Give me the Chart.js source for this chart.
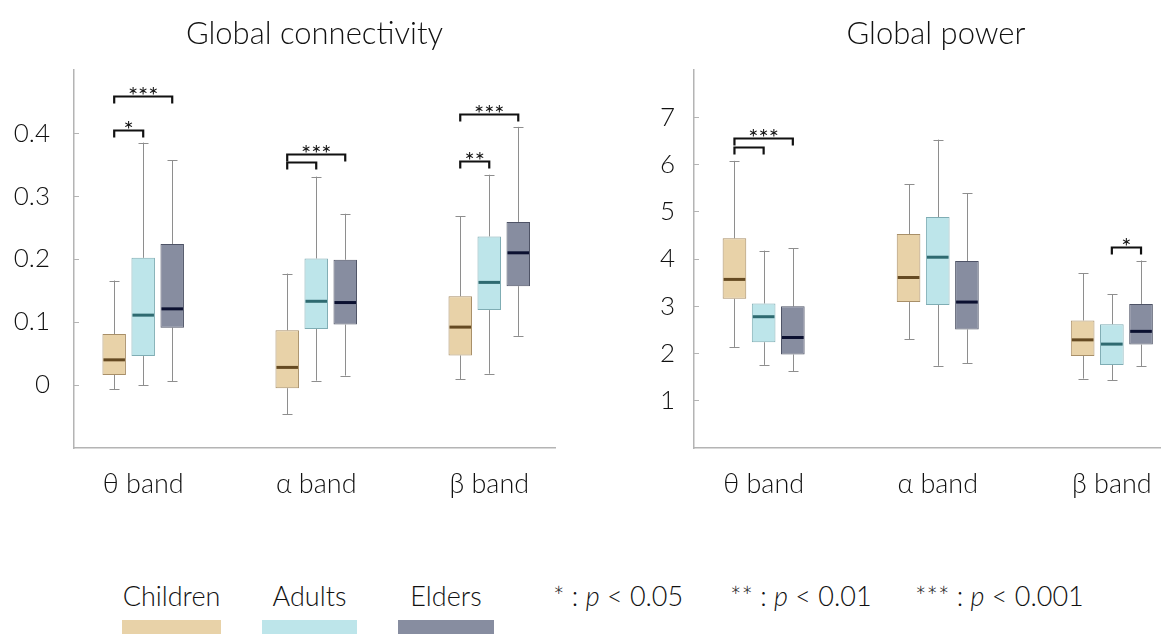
<!DOCTYPE html>
<html>
<head>
<meta charset="utf-8">
<script src="https://cdn.jsdelivr.net/npm/chart.js@4.4.1/dist/chart.umd.min.js"></script>
<style>
  html, body { margin: 0; padding: 0; background: #fff; overflow: hidden; }
  #wrap { position: relative; width: 1161px; height: 634px; overflow: hidden; }
  .panel { position: absolute; top: 0; height: 520px; width: 580px; }
  .lg-text { position: absolute; top: 580px; font-family: Lato, sans-serif; font-weight: 300; font-size: 27px; color: #111; white-space: nowrap; line-height: 32px; }
  .lg-swatch { position: absolute; top: 620px; height: 20px; }
</style>
</head>
<body>
<div id="wrap">
  <div class="panel" style="left:0"><canvas id="conn"></canvas></div>
  <div class="panel" style="left:600px"><canvas id="power"></canvas></div>
  <div id="legend"></div>
</div>
<script>
// Frequency bands on the x axis and the three age groups
const bands = ['θ band', 'α band', 'β band'];
const groups = ['Children', 'Adults', 'Elders'];

// Global connectivity: whisker ends, quartiles and medians per band
const connChildrenMin = [-0.007, -0.046, 0.009];
const connChildrenQ1  = [0.016, -0.005, 0.047];
const connChildrenMed = [0.040, 0.028, 0.092];
const connChildrenQ3  = [0.081, 0.087, 0.141];
const connChildrenMax = [0.166, 0.177, 0.268];

const connAdultsMin = [0.000, 0.007, 0.018];
const connAdultsQ1  = [0.046, 0.089, 0.119];
const connAdultsMed = [0.111, 0.133, 0.163];
const connAdultsQ3  = [0.202, 0.201, 0.236];
const connAdultsMax = [0.385, 0.331, 0.334];

const connEldersMin = [0.006, 0.015, 0.078];
const connEldersQ1  = [0.091, 0.096, 0.157];
const connEldersMed = [0.121, 0.131, 0.210];
const connEldersQ3  = [0.224, 0.199, 0.259];
const connEldersMax = [0.357, 0.272, 0.410];

// Global power: whisker ends, quartiles and medians per band
const powChildrenMin = [2.14, 2.30, 1.47];
const powChildrenQ1  = [3.16, 3.09, 1.95];
const powChildrenMed = [3.57, 3.61, 2.29];
const powChildrenQ3  = [4.44, 4.53, 2.70];
const powChildrenMax = [6.08, 5.59, 3.70];

const powAdultsMin = [1.76, 1.74, 1.44];
const powAdultsQ1  = [2.24, 3.03, 1.76];
const powAdultsMed = [2.78, 4.04, 2.20];
const powAdultsQ3  = [3.06, 4.89, 2.62];
const powAdultsMax = [4.18, 6.53, 3.26];

const powEldersMin = [1.62, 1.79, 1.73];
const powEldersQ1  = [1.98, 2.51, 2.19];
const powEldersMed = [2.34, 3.09, 2.47];
const powEldersQ3  = [3.00, 3.96, 3.05];
const powEldersMax = [4.23, 5.40, 3.97];

// Tick labels of the value axes
const connTicks = [0, 0.1, 0.2, 0.3, 0.4];
const powTicks = [1, 2, 3, 4, 5, 6, 7];

// Significance brackets: band index, first group, second group, bracket level, stars
const connBandIdx = [0, 0, 1, 1, 2, 2];
const connFrom    = [0, 0, 0, 0, 0, 0];
const connTo      = [1, 2, 1, 2, 1, 2];
const connLevel   = [0.405, 0.459, 0.354, 0.367, 0.356, 0.431];
const connStars   = ['*', '***', '', '***', '**', '***'];

const powBandIdx = [0, 0, 2];
const powFrom    = [0, 0, 1];
const powTo      = [1, 2, 2];
const powLevel   = [6.38, 6.56, 4.25];
const powStars   = ['', '***', '*'];

// Significance key
const pNotes = ['*', '**', '***'];
const pLimits = ['0.05', '0.01', '0.001'];

// Group colours
const groupFill   = ['#E8D2A8', '#BDE5EA', '#878DA0'];
const groupEdge   = ['#A88F68', '#7FADB4', '#4E5366'];
const groupMedian = ['#654A22', '#2E6A70', '#0B1030'];

const FONT = 'Lato, "Open Sans", sans-serif';

// Whiskers and caps behind the boxes, medians and brackets on top
const boxPlotPlugin = {
  id: 'boxPlotExtras',
  beforeDatasetsDraw(chart) {
    const { ctx } = chart;
    const y = chart.scales.y;
    const st = chart.options.plugins.boxPlotExtras;
    ctx.save();
    ctx.strokeStyle = '#8e8e8e';
    ctx.lineWidth = 1;
    st.stats.forEach((s, d) => {
      chart.getDatasetMeta(d).data.forEach((el, i) => {
        const x = Math.round(el.x) + 0.5;
        const segs = [[s.max[i], s.q3[i]], [s.min[i], s.q1[i]]];
        segs.forEach(([end, edge]) => {
          const ye = y.getPixelForValue(end);
          const yb = y.getPixelForValue(edge);
          ctx.beginPath();
          ctx.moveTo(x, yb);
          ctx.lineTo(x, ye);
          ctx.moveTo(x - 5, Math.round(ye) + 0.5);
          ctx.lineTo(x + 5, Math.round(ye) + 0.5);
          ctx.stroke();
        });
      });
    });
    ctx.restore();
  },
  afterDatasetsDraw(chart) {
    const { ctx } = chart;
    const y = chart.scales.y;
    const st = chart.options.plugins.boxPlotExtras;
    ctx.save();
    st.stats.forEach((s, d) => {
      ctx.strokeStyle = groupMedian[d];
      ctx.lineWidth = 3;
      chart.getDatasetMeta(d).data.forEach((el, i) => {
        const ym = y.getPixelForValue(s.med[i]);
        const hw = el.width / 2 - 1;
        ctx.beginPath();
        ctx.moveTo(el.x - hw, ym);
        ctx.lineTo(el.x + hw, ym);
        ctx.stroke();
      });
    });
    const b = st.brackets;
    ctx.strokeStyle = '#111';
    ctx.fillStyle = '#111';
    ctx.lineWidth = 2.2;
    ctx.font = '24px ' + FONT;
    ctx.textAlign = 'center';
    ctx.textBaseline = 'alphabetic';
    b.band.forEach((band, k) => {
      const x1 = chart.getDatasetMeta(b.from[k]).data[band].x;
      const x2 = chart.getDatasetMeta(b.to[k]).data[band].x;
      const yy = Math.round(y.getPixelForValue(b.level[k])) + 0.5;
      ctx.beginPath();
      ctx.moveTo(x1, yy + 7);
      ctx.lineTo(x1, yy);
      ctx.lineTo(x2, yy);
      ctx.lineTo(x2, yy + 7);
      ctx.stroke();
      if (b.stars[k]) ctx.fillText(b.stars[k], (x1 + x2) / 2, yy + 7);
    });
    ctx.restore();
  }
};

function makeBoxChart(id, title, yMin, yMax, ticks, tickFmt, stats, brackets, pad) {
  const datasets = groups.map((g, d) => ({
    label: g,
    data: bands.map((_, i) => ({ x: i + 1, y: [stats[d].q1[i], stats[d].q3[i]] })),
    backgroundColor: groupFill[d],
    borderColor: groupEdge[d],
    borderWidth: 1,
    borderSkipped: false,
    categoryPercentage: 0.503,
    barPercentage: 0.81
  }));
  return new Chart(document.getElementById(id), {
    type: 'bar',
    data: { datasets },
    plugins: [boxPlotPlugin],
    options: {
      responsive: true,
      maintainAspectRatio: false,
      animation: false,
      layout: { padding: { left: 0, right: pad.right, top: 0, bottom: 0 } },
      plugins: {
        legend: { display: false },
        tooltip: { enabled: false },
        title: {
          display: true,
          text: title,
          fullSize: false,
          color: '#111',
          font: { family: FONT, size: 31, weight: 300, lineHeight: 1.2 },
          padding: { top: 15, bottom: 18 }
        },
        boxPlotExtras: { stats, brackets }
      },
      scales: {
        x: {
          type: 'linear',
          min: 0.6,
          max: 3.38,
          offset: false,
          afterBuildTicks: s => { s.ticks = bands.map((_, i) => ({ value: i + 1 })); },
          afterFit: s => { s.height = 72; },
          ticks: {
            autoSkip: false,
            maxRotation: 0,
            padding: 20,
            color: '#111',
            font: { family: FONT, size: 27, weight: 300 },
            callback: v => bands[Math.round(v) - 1]
          },
          grid: { display: false, drawTicks: false },
          border: { display: true, color: '#b4b4b4', width: 1.5 }
        },
        y: {
          min: yMin,
          max: yMax,
          afterBuildTicks: s => { s.ticks = ticks.map(v => ({ value: v })); },
          afterFit: s => { s.width = pad.axis; },
          ticks: {
            padding: pad.label,
            color: '#111',
            font: { family: FONT, size: 26, weight: 300 },
            callback: tickFmt
          },
          grid: { display: true, drawOnChartArea: false, drawTicks: true, tickLength: -5, color: '#b4b4b4', lineWidth: 1 },
          border: { display: true, color: '#b4b4b4', width: 1.5 }
        }
      }
    }
  });
}

const connStats = [
  { min: connChildrenMin, q1: connChildrenQ1, med: connChildrenMed, q3: connChildrenQ3, max: connChildrenMax },
  { min: connAdultsMin, q1: connAdultsQ1, med: connAdultsMed, q3: connAdultsQ3, max: connAdultsMax },
  { min: connEldersMin, q1: connEldersQ1, med: connEldersMed, q3: connEldersQ3, max: connEldersMax }
];
const powStats = [
  { min: powChildrenMin, q1: powChildrenQ1, med: powChildrenMed, q3: powChildrenQ3, max: powChildrenMax },
  { min: powAdultsMin, q1: powAdultsQ1, med: powAdultsMed, q3: powAdultsQ3, max: powAdultsMax },
  { min: powEldersMin, q1: powEldersQ1, med: powEldersMed, q3: powEldersQ3, max: powEldersMax }
];

makeBoxChart('conn', 'Global connectivity', -0.1, 0.5, connTicks,
  v => (v === 0 ? '0' : v.toFixed(1)), connStats,
  { band: connBandIdx, from: connFrom, to: connTo, level: connLevel, stars: connStars },
  { right: 25, axis: 74, label: 29 });

makeBoxChart('power', 'Global power', 0, 8, powTicks,
  v => String(v), powStats,
  { band: powBandIdx, from: powFrom, to: powTo, level: powLevel, stars: powStars },
  { right: 2, axis: 94, label: 24 });

// Legend: group names above colour swatches, then the significance key
const swatchLeft = [122, 262, 398];
const swatchWidth = [99, 95, 96];
const noteLeft = [553, 730, 915];
const legend = document.getElementById('legend');
groups.forEach((g, d) => {
  const t = document.createElement('div');
  t.className = 'lg-text';
  t.textContent = g;
  t.style.left = (swatchLeft[d] + swatchWidth[d] / 2) + 'px';
  t.style.transform = 'translateX(-50%)';
  legend.appendChild(t);
  const sw = document.createElement('div');
  sw.className = 'lg-swatch';
  sw.style.left = swatchLeft[d] + 'px';
  sw.style.width = swatchWidth[d] + 'px';
  sw.style.background = groupFill[d];
  legend.appendChild(sw);
});
pNotes.forEach((n, k) => {
  const t = document.createElement('div');
  t.className = 'lg-text';
  t.style.left = noteLeft[k] + 'px';
  t.innerHTML = n + '&nbsp;: <i>p</i> &lt; ' + pLimits[k];
  legend.appendChild(t);
});
</script>
</body>
</html>
